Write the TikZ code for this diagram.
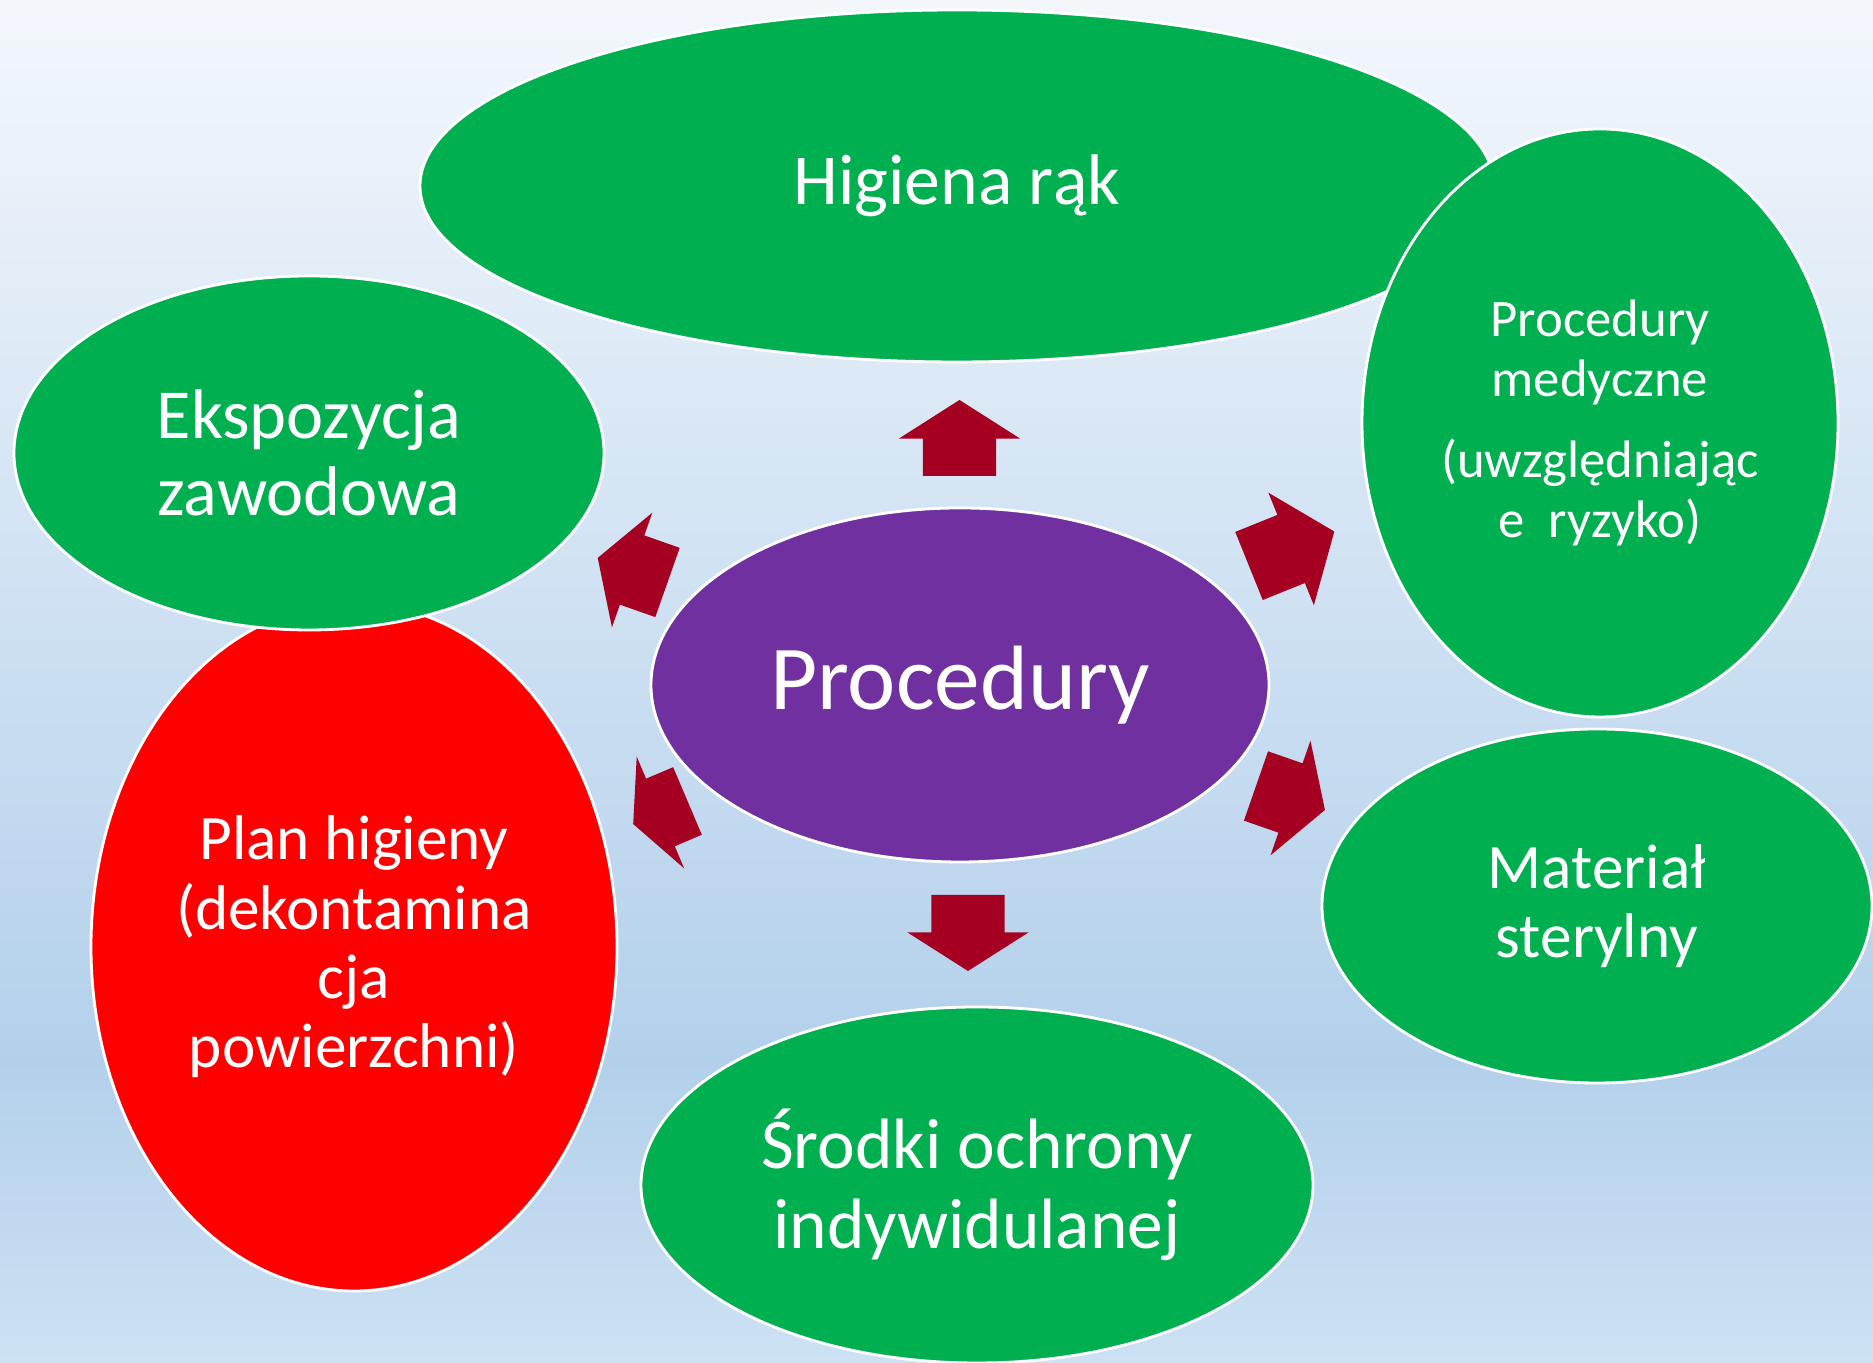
\documentclass[tikz,border=0pt]{standalone}
\usepackage{fontspec}
\setmainfont{Carlito}
\usetikzlibrary{shapes.geometric,shapes.arrows}
\definecolor{zielony}{HTML}{00B050}
\definecolor{czerwony}{HTML}{FF0000}
\definecolor{fiolet}{HTML}{7030A0}
\definecolor{bordo}{HTML}{A50021}
\definecolor{tlogora}{HTML}{F3F7FC}
\definecolor{tlosrodek}{HTML}{B3D0EB}
\definecolor{tlodol}{HTML}{CDE1F3}
\begin{document}
\begin{tikzpicture}[
  elipsa/.style={shape=ellipse,draw=white,line width=0.8pt,text=white,align=center,inner sep=0pt,outer sep=0pt},
  strzalka/.style={shape=single arrow,fill=bordo,draw=none,inner xsep=0pt,inner ysep=0.36cm,outer sep=0pt,single arrow head extend=0.24cm,anchor=tail}]
\useasboundingbox (0,0) rectangle (18.73,13.63);
% tlo
\shade[top color=tlogora,bottom color=tlosrodek] (0,3) rectangle (18.73,13.63);
\shade[top color=tlosrodek,bottom color=tlodol] (0,0) rectangle (18.73,3.01);
% elipsy
\node (higiena) at (9.57,11.77) [elipsa,fill=zielony,minimum width=10.74cm,minimum height=3.52cm,font=\fontsize{20.4}{22.5}\selectfont] {Higiena rąk};
\node (medyczne) at (16.00,9.40) [elipsa,fill=zielony,minimum width=4.76cm,minimum height=5.88cm,font=\fontsize{15}{17}\selectfont] {Procedury\\medyczne\\[6pt](uwzględniając\\e~ ryzyko)};
\node (plan) at (3.54,4.16) [elipsa,fill=czerwony,minimum width=5.26cm,minimum height=6.88cm,font=\fontsize{18}{19.7}\selectfont] {Plan higieny\\(dekontamina\\cja\\powierzchni)};
\node (ekspozycja) at (3.09,9.10) [elipsa,fill=zielony,minimum width=5.90cm,minimum height=3.54cm,font=\fontsize{20}{22}\selectfont] {Ekspozycja\\zawodowa};
\node (proc) at (9.60,6.78) [elipsa,fill=fiolet,minimum width=6.18cm,minimum height=3.54cm,font=\fontsize{26}{28}\selectfont] {Procedury};
\node (material) at (15.97,4.57) [elipsa,fill=zielony,minimum width=5.50cm,minimum height=3.54cm,font=\fontsize{18}{19.7}\selectfont] {Materiał\\sterylny};
\node (srodki) at (9.77,1.78) [elipsa,fill=zielony,minimum width=6.72cm,minimum height=3.56cm,font=\fontsize{20.3}{22.7}\selectfont] {Środki ochrony\\indywidulanej};
% strzalki
\node (s1) at (9.595,8.87) [strzalka,rotate=90,minimum height=0.76cm,single arrow tip angle=115] {};
\node (s2) at (12.49,7.97) [strzalka,rotate=22,minimum height=0.92cm,single arrow tip angle=105] {};
\node (s3) at (6.675,7.805) [strzalka,rotate=160.6,minimum height=0.74cm,single arrow tip angle=118] {};
\node (s4) at (6.875,5.62) [strzalka,rotate=203,minimum height=0.59cm,single arrow tip angle=128] {};
\node (s5) at (12.56,5.77) [strzalka,rotate=-19.2,minimum height=0.73cm,single arrow tip angle=118] {};
\node (s6) at (9.68,4.68) [strzalka,rotate=-90,minimum height=0.76cm,single arrow tip angle=115] {};
\end{tikzpicture}
\end{document}
